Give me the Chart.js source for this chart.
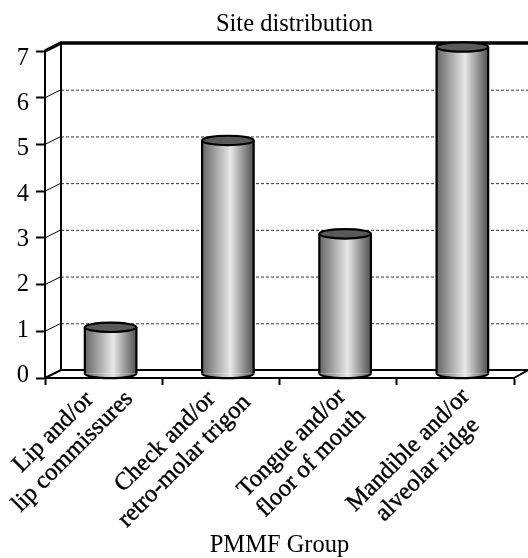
<!DOCTYPE html>
<html><head><meta charset="utf-8">
<style>html,body{margin:0;padding:0;background:#fff}#w{width:528px;height:558px}</style>
<script src="https://cdn.jsdelivr.net/npm/chart.js@4"></script></head>
<body><div id="w"><canvas id="c"></canvas></div>
<script>
const categories = [
  ['Lip and/or','lip commissures'],
  ['Check and/or','retro-molar trigon'],
  ['Tongue and/or','floor of mouth'],
  ['Mandible and/or','alveolar ridge']
];
const siteCounts = [1,5,3,7];
const chartTitle = 'Site distribution';
const xAxisTitle = 'PMMF Group';
const FONT = '"Liberation Serif","Times New Roman",serif';
const FONT_SIZE = 24.5;
const DEPTH_X = 16, DEPTH_Y = 8;
const BAR_DX = 7, BAR_DY = 4, RY = 4.7;
const labelNudge = [[-40.6,64],[-46,73.5],[-36.6,75],[-37.4,82]];

function barGradient(c){
  const ch = c.chart, xs = ch.scales.x;
  if(!ch.chartArea || !xs) return '#999';
  const w = xs.width/categories.length*0.44;
  const x = xs.getPixelForValue(c.dataIndex||0);
  const g = ch.ctx.createLinearGradient(x-w/2,0,x+w/2,0);
  g.addColorStop(0,'#666666');
  g.addColorStop(0.55,'#e8e8e8');
  g.addColorStop(1,'#505050');
  return g;
}

const cylinder3d = {
  id:'cylinder3d',
  afterLayout(chart){
    if(chart.titleBlock){ chart.titleBlock.left = chart.chartArea.left+DEPTH_X; chart.titleBlock.right = chart.width; }
  },
  beforeDraw(chart){
    const xs = chart.scales.x, ys = chart.scales.y;
    xs.getLabelItems(chart.chartArea).forEach((it,i)=>{
      const cx = xs.getPixelForValue(i);
      it.textAlign='center';
      it.options.textAlign='center';
      it.options.textBaseline='middle';
      it.textBaseline='middle';
      it.options.translation=[cx+labelNudge[i][0],chart.chartArea.bottom+labelNudge[i][1]];
      it.textOffset = -0.5*it.font.lineHeight;
    });
    const top = chart.chartArea.top;
    ys.getLabelItems(chart.chartArea).forEach((it)=>{
      const t = it.options.translation;
      if(it.__y===undefined) it.__y=t[1];
      it.options.translation=[t[0],top+7.5+(it.__y-top)*0.969];
    });
  },
  beforeDatasetsDraw(chart){
    const {ctx,chartArea:a,scales:{y:ys}} = chart;
    const backL = a.left+DEPTH_X, R = chart.width;
    ctx.save();
    ys.ticks.forEach(t=>{
      const y = ys.getPixelForValue(t.value);
      const by = y-DEPTH_Y;
      const edge = t.value===ys.max || t.value===ys.min;
      if(!edge){
        ctx.strokeStyle='#333'; ctx.lineWidth=1; ctx.setLineDash([3,2]);
        ctx.beginPath(); ctx.moveTo(backL,by+.5); ctx.lineTo(R,by+.5); ctx.stroke();
        ctx.setLineDash([]);
        ctx.strokeStyle='#000';
        ctx.beginPath(); ctx.moveTo(a.left,y); ctx.lineTo(backL,by); ctx.stroke();
      }
    });
    ctx.strokeStyle='#000'; ctx.setLineDash([]);
    ctx.lineWidth=2;
    ctx.beginPath(); ctx.moveTo(backL,a.top-DEPTH_Y); ctx.lineTo(backL,a.bottom-DEPTH_Y); ctx.stroke();
    ctx.lineWidth=3.4;
    ctx.beginPath(); ctx.moveTo(a.left,a.top); ctx.lineTo(backL,a.top-DEPTH_Y); ctx.lineTo(R,a.top-DEPTH_Y); ctx.stroke();
    ctx.lineWidth=2;
    ctx.beginPath(); ctx.moveTo(a.left,a.bottom); ctx.lineTo(backL,a.bottom-DEPTH_Y); ctx.lineTo(R,a.bottom-DEPTH_Y); ctx.stroke();
    ctx.beginPath(); ctx.moveTo(a.right,a.bottom); ctx.lineTo(R,a.bottom-DEPTH_Y); ctx.stroke();
    ctx.restore();
  },
  beforeDatasetDraw(chart){
    chart.ctx.save();
    chart.ctx.translate(BAR_DX,-BAR_DY);
  },
  afterDatasetDraw(chart,args){
    const ctx = chart.ctx;
    args.meta.data.forEach(el=>{
      const p = el.getProps(['x','y','base','width'],true);
      const rx = p.width/2;
      ctx.lineWidth=2.2; ctx.strokeStyle='#000';
      ctx.beginPath(); ctx.ellipse(p.x,p.base,rx,RY,0,0,Math.PI); ctx.closePath();
      ctx.fillStyle=el.options.backgroundColor; ctx.fill();
      ctx.beginPath(); ctx.ellipse(p.x,p.base,rx,RY,0,0,Math.PI); ctx.stroke();
      ctx.beginPath(); ctx.moveTo(p.x-rx,p.y); ctx.lineTo(p.x-rx,p.base);
      ctx.moveTo(p.x+rx,p.y); ctx.lineTo(p.x+rx,p.base); ctx.stroke();
      ctx.beginPath(); ctx.ellipse(p.x,p.y,rx,RY,0,0,Math.PI*2);
      ctx.fillStyle='#5a5a5a'; ctx.fill(); ctx.stroke();
    });
    ctx.restore();
  }
};

new Chart(document.getElementById('c'),{
  type:'bar',
  data:{labels:categories,datasets:[{
    label:'Site distribution',data:siteCounts,
    backgroundColor:barGradient,borderWidth:0,
    barPercentage:0.44,categoryPercentage:1,clip:false
  }]},
  options:{
    responsive:true,maintainAspectRatio:false,animation:false,
    layout:{padding:{left:0,right:14,top:0,bottom:0}},
    plugins:{
      legend:{display:false},tooltip:{enabled:false},
      title:{display:true,text:chartTitle,color:'#000',
        font:{family:FONT,size:FONT_SIZE,weight:'normal',lineHeight:1.2},
        padding:{top:10,bottom:11.6}}
    },
    scales:{
      x:{
        afterFit(s){s.height=180;s.paddingLeft=0;s.paddingRight=0;},
        grid:{display:true,drawOnChartArea:false,drawTicks:true,tickLength:7,tickWidth:2,tickColor:'#000',offset:true},
        border:{display:true,color:'#000',width:2},
        ticks:{autoSkip:false,minRotation:45,maxRotation:45,color:'#000',
          textStrokeColor:'#000',textStrokeWidth:0.4,
          font:{family:FONT,size:FONT_SIZE,lineHeight:1.12}},
        title:{display:true,text:xAxisTitle,color:'#000',font:{family:FONT,size:FONT_SIZE,lineHeight:1},padding:0}
      },
      y:{
        min:0,max:7,
        afterFit(s){s.width=45;s.paddingTop=0;s.paddingBottom=0;},
        grid:{display:true,drawOnChartArea:false,drawTicks:true,tickLength:9,tickWidth:2,tickColor:'#000'},
        border:{display:true,color:'#000',width:2},
        ticks:{stepSize:1,padding:7,color:'#000',font:{family:FONT,size:FONT_SIZE}}
      }
    }
  },
  plugins:[cylinder3d]
});
</script></body></html>
